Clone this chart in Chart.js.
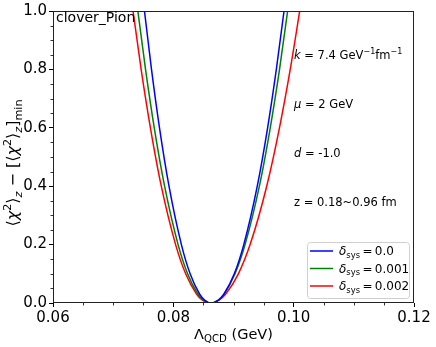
<!DOCTYPE html>
<html>
<head>
<meta charset="utf-8">
<script src="https://cdn.jsdelivr.net/npm/chart.js@4.4.1/dist/chart.umd.min.js"></script>
<style>
html, body { margin: 0; padding: 0; background: #fff; }
</style>
</head>
<body>
<canvas id="chiChart" width="436" height="347"></canvas>
<script>
"use strict";

const FONT = "'DejaVu Sans', sans-serif";

// Lambda_QCD (GeV) vs <chi^2>_z - [<chi^2>_z]_min
const lambdaBlue = [0.07466, 0.0752, 0.07637, 0.0777, 0.07928, 0.08134, 0.08279, 0.08438, 0.08519, 0.0863, 0.08751, 0.0884, 0.09013, 0.09171, 0.09395, 0.09567, 0.09712, 0.0984, 0.09899];
const chiBlue = [1.1, 1.0, 0.8, 0.6, 0.4, 0.2, 0.1, 0.03, 0.01, 0.0, 0.01, 0.03, 0.1, 0.2, 0.4, 0.6, 0.8, 1.0, 1.1];

const lambdaGreen = [0.07351, 0.0741, 0.07538, 0.07683, 0.07855, 0.08079, 0.08237, 0.0841, 0.08499, 0.0862, 0.08748, 0.08842, 0.09025, 0.09192, 0.0943, 0.09611, 0.09765, 0.0990, 0.09962];
const chiGreen = [1.1, 1.0, 0.8, 0.6, 0.4, 0.2, 0.1, 0.03, 0.01, 0.0, 0.01, 0.03, 0.1, 0.2, 0.4, 0.6, 0.8, 1.0, 1.1];

const lambdaRed = [0.07268, 0.0733, 0.07465, 0.07619, 0.0780, 0.08038, 0.08205, 0.08388, 0.08482, 0.0861, 0.08759, 0.08868, 0.09081, 0.09276, 0.09552, 0.09764, 0.09943, 0.1010, 0.10173];
const chiRed = [1.1, 1.0, 0.8, 0.6, 0.4, 0.2, 0.1, 0.03, 0.01, 0.0, 0.01, 0.03, 0.1, 0.2, 0.4, 0.6, 0.8, 1.0, 1.1];

const deltaLabels = ["0.0", "0.001", "0.002"];
const lineColors = ["#0000ff", "#008000", "#ff0000"];

const xTicks = [0.06, 0.08, 0.10, 0.12];
const yTicks = [0.0, 0.2, 0.4, 0.6, 0.8, 1.0];

function toPoints(xs, ys) {
	return xs.map((x, i) => ({ x: x, y: ys[i] }));
}

// draws text made of pieces: [text, kind], kind = "" | "i" | "sub" | "sup" | "isub"
function drawRich(ctx, parts, x, y, size, align) {
	let fontFor = (p) => {
		let small = p[1] === "sub" || p[1] === "sup" || p[1] === "isub";
		let italic = p[1] === "i" || p[1] === "isub";
		return (italic ? "italic " : "") + (small ? size * 0.7 : size) + "px " + FONT;
	};
	let total = 0;
	for (let p of parts) {
		ctx.font = fontFor(p);
		total += ctx.measureText(p[0]).width;
	}
	let cx = align === "center" ? x - total / 2 : x;
	ctx.textAlign = "left";
	ctx.textBaseline = "alphabetic";
	for (let p of parts) {
		ctx.font = fontFor(p);
		let dy = 0;
		if (p[1] === "sub" || p[1] === "isub") dy = size * 0.22;
		if (p[1] === "sup") dy = -size * 0.42;
		ctx.fillText(p[0], cx, y + dy);
		cx += ctx.measureText(p[0]).width;
	}
}

const decorations = {
	id: "decorations",
	afterDraw(chart) {
		let ctx = chart.ctx;
		let area = chart.chartArea;
		let xs = chart.scales.x;
		let ys = chart.scales.y;
		ctx.save();
		ctx.fillStyle = "#000";
		ctx.strokeStyle = "#000";

		// minor ticks
		ctx.lineWidth = 0.8;
		ctx.beginPath();
		for (let i = 1; i < 12; i++) {
			if (i % 4 === 0) continue;
			let px = Math.round(xs.getPixelForValue(0.06 + i * 0.005)) + 0.5;
			ctx.moveTo(px, area.bottom);
			ctx.lineTo(px, area.bottom + 2.5);
		}
		for (let i = 1; i < 20; i++) {
			if (i % 4 === 0) continue;
			let py = Math.round(ys.getPixelForValue(i * 0.05)) + 0.5;
			ctx.moveTo(area.left, py);
			ctx.lineTo(area.left - 2.5, py);
		}
		ctx.stroke();

		// frame
		ctx.lineWidth = 1;
		ctx.strokeStyle = "#222";
		ctx.strokeRect(area.left + 0.5, area.top + 0.5, area.right - area.left - 1, area.bottom - area.top - 1);

		// axis titles
		drawRich(ctx, [["Λ", ""], ["QCD", "sub"], [" (GeV)", ""]], (area.left + area.right) / 2, 339, 14.5, "center");
		ctx.save();
		ctx.translate(13, (area.top + area.bottom) / 2 + 6);
		ctx.rotate(-Math.PI / 2);
		drawRich(ctx, [
			["⟨", ""], ["χ", "i"], ["2", "sup"], ["⟩", ""], ["z", "isub"],
			[" − [⟨", ""], ["χ", "i"], ["2", "sup"], ["⟩", ""], ["z", "isub"], ["]", ""], ["min", "sub"],
		], 0, 5, 16, "center");
		ctx.restore();

		// annotations
		drawRich(ctx, [["clover_Pion", ""]], area.left + 3, 22, 14, "left");
		drawRich(ctx, [["k", "i"], [" = 7.4 GeV", ""], ["−1", "sup"], ["fm", ""], ["−1", "sup"]], 294, 59, 11.5, "left");
		drawRich(ctx, [["μ", "i"], [" = 2 GeV", ""]], 294, 108, 11.5, "left");
		drawRich(ctx, [["d", "i"], [" = -1.0", ""]], 294, 157, 11.5, "left");
		drawRich(ctx, [["z = 0.18~0.96 fm", ""]], 294, 206, 11.5, "left");

		// legend
		let bx = 307, by = 242, bw = 102, bh = 56, r = 3;
		ctx.beginPath();
		ctx.roundRect(bx + 0.5, by + 0.5, bw, bh, r);
		ctx.fillStyle = "rgba(255,255,255,0.8)";
		ctx.fill();
		ctx.strokeStyle = "#d0d0d0";
		ctx.lineWidth = 1;
		ctx.stroke();
		chart.data.datasets.forEach((ds, i) => {
			let ly = 251 + i * 17.5;
			ctx.strokeStyle = ds.borderColor;
			ctx.lineWidth = 1.5;
			ctx.beginPath();
			ctx.moveTo(310, ly);
			ctx.lineTo(333, ly);
			ctx.stroke();
			ctx.fillStyle = "#000";
			drawRich(ctx, [["δ", "i"], ["sys", "sub"], ["\u2009=\u2009" + deltaLabels[i], ""]], 339, ly + 4, 12, "left");
		});
		ctx.restore();
	},
};

let ctx = document.getElementById("chiChart").getContext("2d");
let chart = new Chart(ctx, {
	type: "line",
	data: {
		datasets: [
			{ label: "δsys = " + deltaLabels[0], data: toPoints(lambdaBlue, chiBlue), borderColor: lineColors[0] },
			{ label: "δsys = " + deltaLabels[1], data: toPoints(lambdaGreen, chiGreen), borderColor: lineColors[1] },
			{ label: "δsys = " + deltaLabels[2], data: toPoints(lambdaRed, chiRed), borderColor: lineColors[2] },
		].map((ds) => Object.assign(ds, {
			borderWidth: 1.5,
			pointRadius: 0,
			fill: false,
			cubicInterpolationMode: "monotone",
		})),
	},
	options: {
		responsive: false,
		animation: false,
		devicePixelRatio: 1,
		layout: { padding: { top: 10, right: 22, left: 0, bottom: 0 } },
		plugins: {
			legend: { display: false },
			tooltip: { enabled: false },
		},
		scales: {
			x: {
				type: "linear",
				min: 0.06,
				max: 0.12,
				afterBuildTicks: (s) => { s.ticks = xTicks.map((v) => ({ value: v })); },
				afterFit: (s) => { s.height = 44; },
				grid: { drawOnChartArea: false, tickLength: 4, color: "#000", tickColor: "#000" },
				border: { display: false },
				ticks: {
					color: "#000",
					padding: 2,
					maxRotation: 0,
					font: { family: FONT, size: 15 },
					callback: (v) => v.toFixed(2),
				},
			},
			y: {
				min: 0,
				max: 1,
				afterBuildTicks: (s) => { s.ticks = yTicks.map((v) => ({ value: v })); },
				afterFit: (s) => { s.width = 53; },
				grid: { drawOnChartArea: false, tickLength: 4, color: "#000", tickColor: "#000" },
				border: { display: false },
				ticks: {
					color: "#000",
					padding: 2,
					font: { family: FONT, size: 15 },
					callback: (v) => v.toFixed(1),
				},
			},
		},
	},
	plugins: [decorations],
});
</script>
</body>
</html>
